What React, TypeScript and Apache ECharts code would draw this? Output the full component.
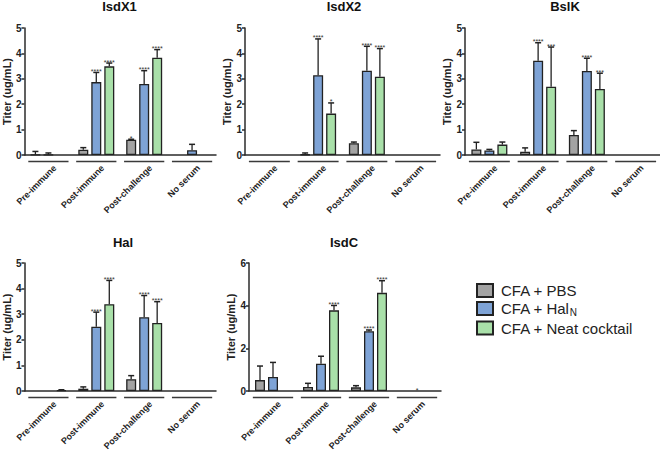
import React, { useEffect, useRef } from 'react';
import * as echarts from 'echarts';

const categories = ['Pre-immune', 'Post-immune', 'Post-challenge', 'No serum'];
const groupNames = ['CFA + PBS', 'CFA + HalN', 'CFA + Neat cocktail'];
const panelTitles = ['IsdX1', 'IsdX2', 'BslK', 'Hal', 'IsdC'];
const yMaxes = [5, 5, 5, 5, 6];
const yIntervals = [1, 1, 1, 1, 2];

// IsdX1
const isdX1Pbs = [0.01, 0.21, 0.6, null];
const isdX1PbsUpper = [0.14, 0.29, 0.62, null];
const isdX1Hal = [0.01, 2.87, 2.8, 0.19];
const isdX1HalUpper = [0.08, 3.25, 3.32, 0.42];
const isdX1Neat = [null, 3.49, 3.83, null];
const isdX1NeatUpper = [null, 3.62, 4.15, null];
const isdX1PbsStars = ['', '', '*', ''];
const isdX1HalStars = ['', '****', '****', ''];
const isdX1NeatStars = ['', '****', '****', ''];

// IsdX2
const isdX2Pbs = [null, 0.02, 0.46, null];
const isdX2PbsUpper = [null, 0.08, 0.51, null];
const isdX2Hal = [null, 3.14, 3.32, null];
const isdX2HalUpper = [null, 4.57, 4.28, null];
const isdX2Neat = [null, 1.63, 3.08, null];
const isdX2NeatUpper = [null, 2.05, 4.19, null];
const isdX2PbsStars = ['', '', '', ''];
const isdX2HalStars = ['', '****', '****', ''];
const isdX2NeatStars = ['', '*', '****', ''];

// BslK
const bslKPbs = [0.22, 0.13, 0.79, null];
const bslKPbsUpper = [0.5, 0.28, 0.96, null];
const bslKHal = [0.18, 3.71, 3.31, null];
const bslKHalUpper = [0.22, 4.42, 3.81, null];
const bslKNeat = [0.41, 2.69, 2.6, null];
const bslKNeatUpper = [0.51, 4.25, 3.22, null];
const bslKPbsStars = ['', '', '', ''];
const bslKHalStars = ['', '****', '****', ''];
const bslKNeatStars = ['', '***', '***', ''];

// Hal
const halPbs = [null, 0.09, 0.46, null];
const halPbsUpper = [null, 0.16, 0.6, null];
const halHal = [null, 2.51, 2.88, null];
const halHalUpper = [null, 3.08, 3.73, null];
const halNeat = [0.03, 3.39, 2.66, null];
const halNeatUpper = [0.05, 4.32, 3.49, null];
const halPbsStars = ['', '', '', ''];
const halHalStars = ['', '****', '****', ''];
const halNeatStars = ['', '****', '****', ''];

// IsdC
const isdCPbs = [0.51, 0.19, 0.17, null];
const isdCPbsUpper = [1.17, 0.36, 0.25, null];
const isdCHal = [0.66, 1.28, 2.8, null];
const isdCHalUpper = [1.34, 1.63, 2.86, null];
const isdCNeat = [null, 3.78, 4.6, null];
const isdCNeatUpper = [null, 4.01, 5.17, null];
const isdCPbsStars = ['', '', '', ''];
const isdCHalStars = ['', '', '****', '*'];
const isdCNeatStars = ['', '****', '****', ''];

type Arr = (number | null)[];
const panels: { means: Arr[]; uppers: Arr[]; stars: string[][] }[] = [
  { means: [isdX1Pbs, isdX1Hal, isdX1Neat], uppers: [isdX1PbsUpper, isdX1HalUpper, isdX1NeatUpper], stars: [isdX1PbsStars, isdX1HalStars, isdX1NeatStars] },
  { means: [isdX2Pbs, isdX2Hal, isdX2Neat], uppers: [isdX2PbsUpper, isdX2HalUpper, isdX2NeatUpper], stars: [isdX2PbsStars, isdX2HalStars, isdX2NeatStars] },
  { means: [bslKPbs, bslKHal, bslKNeat], uppers: [bslKPbsUpper, bslKHalUpper, bslKNeatUpper], stars: [bslKPbsStars, bslKHalStars, bslKNeatStars] },
  { means: [halPbs, halHal, halNeat], uppers: [halPbsUpper, halHalUpper, halNeatUpper], stars: [halPbsStars, halHalStars, halNeatStars] },
  { means: [isdCPbs, isdCHal, isdCNeat], uppers: [isdCPbsUpper, isdCHalUpper, isdCNeatUpper], stars: [isdCPbsStars, isdCHalStars, isdCNeatStars] },
];

// layout
const gridBoxes = [
  { left: 23, top: 28, width: 193, height: 127 },
  { left: 245, top: 28, width: 195, height: 127 },
  { left: 465, top: 28, width: 195, height: 127 },
  { left: 23, top: 263, width: 193, height: 128 },
  { left: 249, top: 263, width: 192, height: 128 },
];
const titlePos = [
  { x: 119.5, y: 6.5 },
  { x: 344, y: 6.5 },
  { x: 565, y: 6.5 },
  { x: 123, y: 242 },
  { x: 344, y: 242 },
];

const colors = ['#A3A3A3', '#7EA3D6', '#A9E0A9'];
const FONT = '"Liberation Sans", Arial, Helvetica, sans-serif';
const BAR_W = 10;
const BAR_STEP = 13;

export default function App() {
  const ref = useRef<HTMLDivElement>(null);
  useEffect(() => {
    document.body.style.margin = '0';
    if (!ref.current) return;
    const chart = echarts.init(ref.current, null, { renderer: 'svg' });

    const grid: any[] = [];
    const xAxis: any[] = [];
    const yAxis: any[] = [];
    const series: any[] = [];
    const graphic: any[] = [];

    panels.forEach((panel, p) => {
      grid.push({ ...gridBoxes[p], containLabel: false });
      xAxis.push({
        type: 'category',
        gridIndex: p,
        data: categories,
        axisLine: { show: true, lineStyle: { color: '#2b2b2b', width: 1.5 } },
        axisTick: { show: false },
        axisLabel: { show: false },
        splitLine: { show: false },
      });
      yAxis.push({
        type: 'value',
        gridIndex: p,
        min: 0,
        max: yMaxes[p],
        interval: yIntervals[p],
        name: 'Titer (ug/mL)',
        nameLocation: 'middle',
        nameGap: 12,
        nameTextStyle: { fontSize: 11, fontWeight: 'bold', fontFamily: FONT, color: '#222' },
        axisLine: { show: true, lineStyle: { color: '#2b2b2b', width: 1.5 } },
        axisTick: { show: true, length: 3, lineStyle: { color: '#2b2b2b', width: 1.5 } },
        axisLabel: { margin: 3, fontSize: 10, fontWeight: 'bold', fontFamily: FONT, color: '#222' },
        splitLine: { show: false },
      });

      panel.means.forEach((m, k) => {
        series.push({
          type: 'bar',
          name: groupNames[k],
          xAxisIndex: p,
          yAxisIndex: p,
          data: m.map((v) => (v === null ? '-' : v)),
          barWidth: BAR_W,
          barGap: '30%',
          itemStyle: { color: colors[k], borderColor: '#222', borderWidth: 1.3 },
          emphasis: { disabled: true },
        });
      });

      // error bars + significance stars
      const items: number[][] = [];
      const itemStars: string[] = [];
      panel.means.forEach((m, k) => {
        m.forEach((v, c) => {
          const star = panel.stars[k][c];
          if (v === null && !star) return;
          const mean = v === null ? 0 : v;
          const up = panel.uppers[k][c];
          items.push([c, k, mean, up === null ? mean : up]);
          itemStars.push(star);
        });
      });
      series.push({
        type: 'custom',
        xAxisIndex: p,
        yAxisIndex: p,
        data: items,
        encode: { x: 0, y: [2, 3] },
        silent: true,
        z: 5,
        renderItem: (params: any, api: any) => {
          const c = api.value(0);
          const k = api.value(1);
          const mean = api.value(2);
          const up = api.value(3);
          const p0 = api.coord([c, mean]);
          const x = p0[0] + (k - 1) * BAR_STEP;
          const children: any[] = [];
          let topY = p0[1];
          if (up > mean) {
            const p1 = api.coord([c, up]);
            topY = p1[1];
            children.push({ type: 'line', shape: { x1: x, y1: p0[1], x2: x, y2: p1[1] }, style: { stroke: '#222', lineWidth: 1.3 } });
            children.push({ type: 'line', shape: { x1: x - 3, y1: p1[1], x2: x + 3, y2: p1[1] }, style: { stroke: '#222', lineWidth: 1.5 } });
          }
          const star = itemStars[params.dataIndex];
          if (star) {
            children.push({
              type: 'text',
              x: x,
              y: topY - 1,
              style: { text: star, align: 'center', verticalAlign: 'middle', font: `7px ${FONT}`, fill: '#333' },
            });
          }
          return { type: 'group', children };
        },
      });

      // group underlines + rotated category labels
      series.push({
        type: 'custom',
        xAxisIndex: p,
        yAxisIndex: p,
        data: categories.map((_, i) => [i, 0]),
        encode: { x: 0, y: 1 },
        silent: true,
        clip: false,
        renderItem: (params: any, api: any) => {
          const c = api.coord([api.value(0), 0]);
          const bw = api.size([1, 0])[0];
          return {
            type: 'group',
            children: [
              {
                type: 'line',
                shape: { x1: c[0] - 0.42 * bw, y1: c[1] + 6.5, x2: c[0] + 0.42 * bw, y2: c[1] + 6.5 },
                style: { stroke: '#3a3a3a', lineWidth: 1.6 },
              },
              {
                type: 'text',
                x: c[0] + 6.5,
                y: c[1] + 11.5,
                rotation: Math.PI / 4,
                style: {
                  text: categories[params.dataIndex],
                  align: 'right',
                  verticalAlign: 'middle',
                  font: `bold 9px ${FONT}`,
                  fill: '#222',
                },
              },
            ],
          };
        },
      });

      graphic.push({
        type: 'text',
        x: titlePos[p].x,
        y: titlePos[p].y,
        style: {
          text: panelTitles[p],
          align: 'center',
          verticalAlign: 'middle',
          font: `bold 13px ${FONT}`,
          fill: '#111',
        },
      });
    });

    chart.setOption({
      animation: false,
      backgroundColor: '#fff',
      grid,
      xAxis,
      yAxis,
      series,
      graphic,
      legend: {
        data: groupNames,
        orient: 'vertical',
        left: 476,
        top: 283,
        padding: 0,
        itemWidth: 16,
        itemHeight: 13,
        itemGap: 3,
        icon: 'rect',
        selectedMode: false,
        formatter: (name: string) =>
          name === 'CFA + HalN' ? '{n|CFA + Hal}{s|N}' : `{n|${name}}`,
        textStyle: {
          padding: [0, 0, 0, 3],
          rich: {
            n: { fontSize: 15, fontFamily: FONT, color: '#222', lineHeight: 18, verticalAlign: 'middle' },
            s: { fontSize: 10, fontFamily: FONT, color: '#222', lineHeight: 10, verticalAlign: 'bottom' },
          },
        },
      },
    });
    return () => chart.dispose();
  }, []);
  return <div ref={ref} style={{ width: 660, height: 452 }} />;
}
